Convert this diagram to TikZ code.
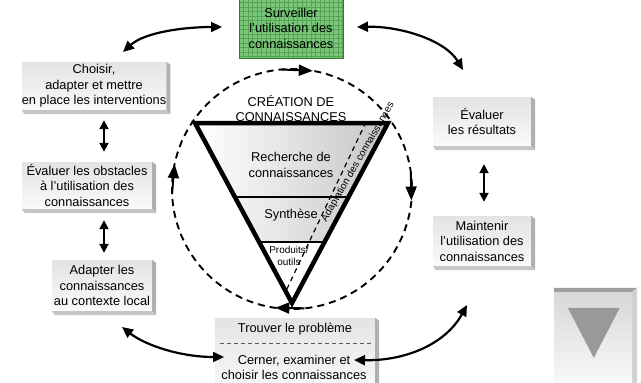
\documentclass[tikz,border=0pt]{standalone}
\usepackage{fontspec}
\setmainfont{Liberation Sans}
\usetikzlibrary{arrows.meta,calc}

\definecolor{gridgreen}{RGB}{84,164,84}
\definecolor{fillgreen}{RGB}{122,198,122}
\definecolor{edgegreen}{RGB}{50,125,50}

% raised edge on the right and bottom of a box
\newcommand\bevelof[1]{%
  \fill[bevelright] (#1.north east) -- ++(4,3) -- ($(#1.south east)+(4,4)$) -- (#1.south east) -- cycle;
  \fill[bevelbottom] (#1.south west) -- ($(#1.south west)+(3,4)$) -- ($(#1.south east)+(4,4)$) -- (#1.south east) -- cycle;}

\begin{document}
\begin{tikzpicture}[x=1pt,y=-1pt,
  txt/.style={inner sep=0pt, align=center, font=\fontsize{12.8}{15.5}\selectfont},
  small/.style={txt, font=\fontsize{10}{12}\selectfont},
  face/.style={txt, top color=gray!22, bottom color=gray!4},
  bevelright/.style={fill=gray!62},
  bevelbottom/.style={fill=gray!45},
  dbl/.style={{Triangle[length=9pt,width=9pt]}-{Triangle[length=9pt,width=9pt]}, line width=1.9pt},
  swing/.style={{Triangle[length=11pt,width=10pt]}-{Triangle[length=11pt,width=10pt]}, line width=2.2pt},
  ring/.style={line width=1.9pt, dash pattern=on 7pt off 5pt},
  ringtip/.style={-{Triangle[length=14pt,width=11pt]}, line width=2pt},
  inner dash/.style={line width=1.2pt, dash pattern=on 5pt off 4pt},
  greenbox/.style={txt, fill=fillgreen, draw=edgegreen, line width=0.8pt,
    path picture={\foreach \k in {0,...,30}{
      \draw[gridgreen, line width=0.5pt] ($(path picture bounding box.north west)+(\k*4.5,0)$) -- ++(0,80);
      \draw[gridgreen, line width=0.5pt] ($(path picture bounding box.north west)+(0,\k*4.5)$) -- ++(140,0);}}},
  ]
\useasboundingbox (0,0) rectangle (641,383);
\fill[white] (0,0) rectangle (641,383);

% ---- boxes around the cycle ----
\node[greenbox, minimum width=104, minimum height=60] (watch) at (291,28)
  {Surveiller\\l'utilisation des\\connaissances};

\node[face, minimum width=141, minimum height=48] (choose) at (94,86)
  {Choisir,\\adapter et mettre\\en place les interventions};
\bevelof{choose}
\node[face, minimum width=130, minimum height=47] (obst) at (87,185.5)
  {Évaluer les obstacles\\à l'utilisation des\\connaissances};
\bevelof{obst}
\node[face, minimum width=100, minimum height=51] (adapt) at (102,285.5)
  {Adapter les\\connaissances\\au contexte local};
\bevelof{adapt}
\node[face, minimum width=98, minimum height=49] (eval) at (482,121.5)
  {Évaluer\\les résultats};
\bevelof{eval}
\node[face, minimum width=98, minimum height=50] (maint) at (482,241)
  {Maintenir\\l'utilisation des\\connaissances};
\bevelof{maint}

% bottom box with two parts
\node[face, minimum width=160, minimum height=75] (findbox) at (295,355.5) {};
\bevelof{findbox}
\node[txt] (trouver) at (295,329) {Trouver le problème};
\node[txt] (cerner) at (294,367.5) {Cerner, examiner et\\choisir les connaissances};
\coordinate (sepl) at (220,343);
\coordinate (sepr) at (371,343);
\draw[line width=0.9pt, dash pattern=on 4pt off 3pt, gray!70!black] (sepl) -- (sepr);

% corner button
\node[inner sep=0pt, top color=gray!32, bottom color=gray!3, minimum width=78, minimum height=95] (corner) at (593,339.5) {};
\fill[gray!75] (corner.north west) -- ++(0,-4) -- ($(corner.north east)+(5,-4)$) -- (corner.north east) -- cycle;
\fill[gray!35] (corner.north east) -- ++(5,-4) -- ($(corner.south east)+(5,0)$) -- (corner.south east) -- cycle;
\fill[gray!80] ($(corner.north west)+(14,16)$) -- ($(corner.north west)+(66,16)$) -- ($(corner.north west)+(40,66)$) -- cycle;

% ---- connectors between boxes ----
\coordinate (colL) at (104,0);
\coordinate (colR) at (484,0);
\draw[dbl, shorten <=10pt, shorten >=10pt] (choose.south -| colL) -- (obst.north -| colL);
\draw[dbl, shorten <=11pt, shorten >=7pt] (obst.south -| colL) -- (adapt.north -| colL);
\draw[dbl, shorten <=18pt, shorten >=14pt] (eval.south -| colR) -- (maint.north -| colR);

\coordinate (a1) at (123,52);  \coordinate (a2) at (222,27);
\draw[swing] (a1) .. controls (145,32) and (185,27) .. (a2);
\coordinate (b1) at (357,27);  \coordinate (b2) at (463,70);
\draw[swing] (b1) .. controls (400,26) and (445,40) .. (b2);
\coordinate (c1) at (122,327); \coordinate (c2) at (224,357);
\draw[swing] (c1) .. controls (145,345) and (180,357) .. (c2);
\coordinate (d1) at (354,360); \coordinate (d2) at (467,305);
\draw[swing] (d1) .. controls (404,361) and (445,345) .. (d2);

% ---- knowledge creation cycle ----
\coordinate (ctr) at (292,189);
\draw[ring] (ctr) circle[radius=120];
\coordinate (r1a) at (281.5,69.5);  \coordinate (r1b) at (312.8,70.8);
\coordinate (r2a) at (410.8,172.3); \coordinate (r2b) at (411.4,200.5);
\coordinate (r3a) at (304.5,308.3); \coordinate (r3b) at (275.3,307.8);
\coordinate (r4a) at (172.1,193.2); \coordinate (r4b) at (174.6,164.1);
\draw[ringtip] (r1a) -- (r1b);
\draw[ringtip] (r2a) -- (r2b);
\draw[ringtip] (r3a) -- (r3b);
\draw[ringtip] (r4a) -- (r4b);

% funnel
\coordinate (tl) at (195,123);
\coordinate (tr) at (388,123);
\coordinate (ap) at (292,303);
\coordinate (s1l) at ($(tl)!0.4111!(ap)$);
\coordinate (s1r) at ($(tr)!0.4111!(ap)$);
\coordinate (s2l) at ($(tl)!0.6611!(ap)$);
\coordinate (s2r) at ($(tr)!0.6611!(ap)$);
\shade[left color=white, middle color=white, right color=gray!45] (tl) -- (tr) -- (s2r) -- (s2l) -- cycle;
\fill[white] (s2l) -- (s2r) -- (ap) -- cycle;
\draw[line width=1.3pt] (s1l) -- (s1r) (s2l) -- (s2r);
\coordinate (dtop) at (366,122);
\coordinate (dbot) at (285,293);
\draw[inner dash] (dtop) -- (dbot);
\draw[line width=4.5pt, line join=miter] (tl) -- (tr) -- (ap) -- cycle;

\node[txt] (creation) at (291,108.5) {CRÉATION DE\\CONNAISSANCES};
\node[txt] (recherche) at (291,165) {Recherche de\\connaissances};
\node[txt] (synthese) at (291,215) {Synthèse};
\node[small] (produits) at (289,256) {Produits/\\outils};
\node[small, rotate=60] (adaptation) at (358,162) {Adaptation des connaissances};
\end{tikzpicture}
\end{document}
